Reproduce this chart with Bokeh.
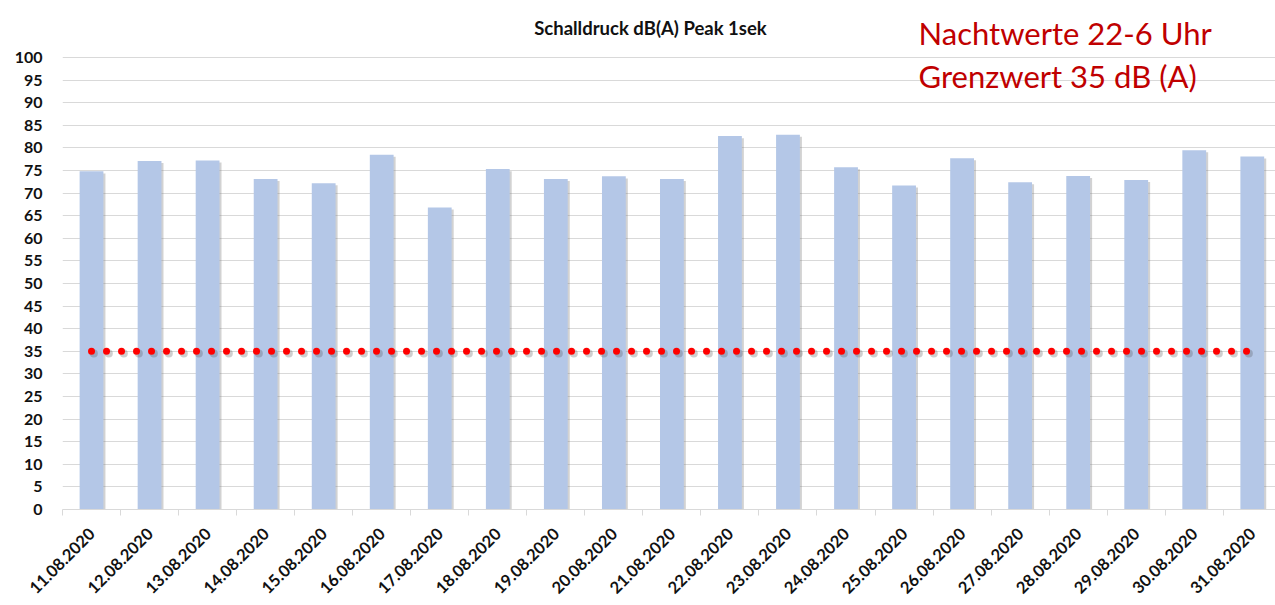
from bokeh.plotting import figure
from bokeh.models import ColumnDataSource, Range1d, FixedTicker, Label
from bokeh.embed import file_html
from bokeh.resources import INLINE
import math

dates = ["11.08.2020", "12.08.2020", "13.08.2020", "14.08.2020", "15.08.2020",
         "16.08.2020", "17.08.2020", "18.08.2020", "19.08.2020", "20.08.2020",
         "21.08.2020", "22.08.2020", "23.08.2020", "24.08.2020", "25.08.2020",
         "26.08.2020", "27.08.2020", "28.08.2020", "29.08.2020", "30.08.2020",
         "31.08.2020"]
peak_db = [74.8, 77.1, 77.2, 73.1, 72.2, 78.5, 66.8, 75.3, 73.1, 73.7, 73.1,
           82.6, 82.9, 75.7, 71.7, 77.7, 72.4, 73.8, 72.9, 79.5, 78.1]
limit_db = [35] * len(dates)
y_ticks = list(range(0, 101, 5))

title_text = "Schalldruck dB(A) Peak 1sek"
note_line1 = "Nachtwerte 22-6 Uhr"
note_line2 = "Grenzwert 35 dB (A)"

idx = list(range(len(dates)))
src = ColumnDataSource(dict(
    x=idx,
    top=peak_db,
    x_sh=[i + 0.035 for i in idx],
    top_sh=[v - 0.45 for v in peak_db],
    limit=limit_db,
    x_lsh=[i + 0.04 for i in idx],
    limit_sh=[v - 0.5 for v in limit_db],
))

p = figure(width=1275, height=605, output_backend="svg", toolbar_location=None,
           x_range=Range1d(-0.5, 20.40), y_range=Range1d(0, 112.6),
           min_border_left=62, min_border_right=0, min_border_top=0,
           min_border_bottom=96)
p.outline_line_color = None
p.background_fill_color = "white"
p.border_fill_color = "white"

# shadows
p.vbar(x="x_sh", top="top_sh", width=0.41, source=src, fill_color="#7f7f7f",
       fill_alpha=0.35, line_color=None)
p.vbar(x="x", top="top", width=0.41, source=src, fill_color="#B4C7E7",
       line_color=None)

p.line(x="x_lsh", y="limit_sh", source=src, line_color="#404040", line_alpha=0.25,
       line_width=8, line_dash="0 15", line_cap="round")
p.line(x="x", y="limit", source=src, line_color="#FF0000", line_width=7,
       line_dash="0 15", line_cap="round")

# y axis
p.yaxis.ticker = FixedTicker(ticks=y_ticks)
p.yaxis.axis_line_color = None
p.yaxis.major_tick_line_color = None
p.yaxis.minor_tick_line_color = None
p.yaxis.major_label_standoff = 14
p.yaxis.major_label_text_font = "Lato"
p.yaxis.major_label_text_font_style = "bold"
p.yaxis.major_label_text_font_size = "16px"
p.yaxis.major_label_text_color = "#111111"

p.ygrid.ticker = FixedTicker(ticks=y_ticks)
p.ygrid.grid_line_color = "#D9D9D9"
p.ygrid.grid_line_width = 1
p.xgrid.grid_line_color = None

# x axis
p.xaxis.ticker = FixedTicker(ticks=idx, minor_ticks=[i - 0.5 for i in idx] + [20.5])
p.xaxis.major_label_overrides = {i: d for i, d in enumerate(dates)}
p.xaxis.major_label_orientation = math.pi / 4
p.xaxis.axis_line_color = "#D9D9D9"
p.xaxis.major_tick_line_color = None
p.xaxis.minor_tick_line_color = "#D9D9D9"
p.xaxis.minor_tick_in = 0
p.xaxis.minor_tick_out = 6
p.xaxis.major_label_standoff = 15
p.xaxis.major_label_text_font = "Lato"
p.xaxis.major_label_text_font_style = "bold"
p.xaxis.major_label_text_font_size = "16.5px"
p.xaxis.major_label_text_color = "#111111"

p.add_layout(Label(x=9.63, y=106.6, text=title_text, text_align="center",
                   text_baseline="middle", text_font="Lato",
                   text_font_style="bold", text_font_size="18.5px",
                   text_color="#111111"))
p.add_layout(Label(x=14.25, y=105.5, text=note_line1, text_align="left",
                   text_baseline="middle", text_font="Lato",
                   text_font_size="31px", text_color="#C00000"))
p.add_layout(Label(x=14.25, y=96.0, text=note_line2, text_align="left",
                   text_baseline="middle", text_font="Lato",
                   text_font_size="31px", text_color="#C00000"))

open("out.html", "w").write(file_html(p, INLINE))
